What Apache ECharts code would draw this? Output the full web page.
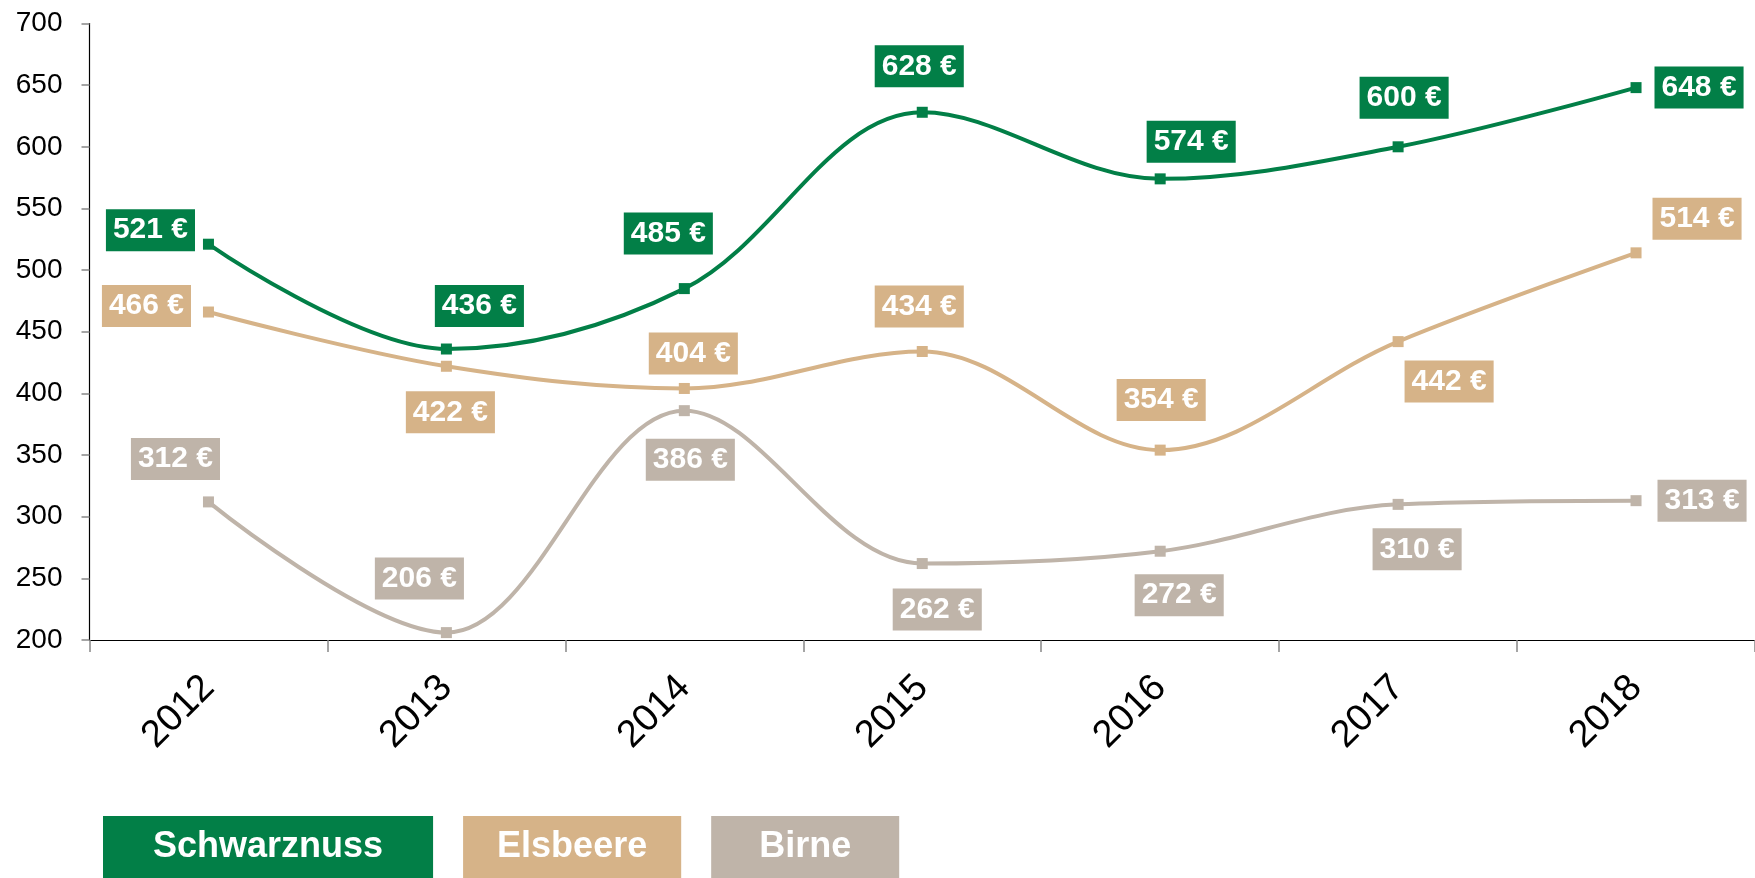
<!DOCTYPE html>
<html><head><meta charset="utf-8">
<script src="https://cdn.jsdelivr.net/npm/echarts@6/dist/echarts.min.js"></script>
<style>html,body{margin:0;padding:0;background:#fff}#c{width:1755px;height:878px}</style>
</head><body><div id="c"></div>
<script>
// ---- data ----
const years = ['2012', '2013', '2014', '2015', '2016', '2017', '2018'];
const schwarznuss = [521, 436, 485, 628, 574, 600, 648];
const elsbeere = [466, 422, 404, 434, 354, 442, 514];
const birne = [312, 206, 386, 262, 272, 310, 313];
const seriesNames = ['Schwarznuss', 'Elsbeere', 'Birne'];
const yMin = 200, yMax = 700, yStep = 50;

// ---- styles ----
const colors = ['#027F47', '#D6B388', '#BFB4A9'];
const labelOffsets = [
  [[-58, -14], [33, -43], [-16, -55], [-3, -46], [31, -37], [6, -49], [63, 0]],
  [[-62, -6], [4, 46], [9, -35], [-3, -45], [1, -50], [51, 40], [61, -34]],
  [[-33, -43], [-27, -54], [6, 49], [15, 46], [19, 44], [19, 45], [66, 0]]
];
const legendPad = [50, 34, 48];
const FONT = '"Liberation Sans", Arial, sans-serif';

const seriesData = [schwarznuss, elsbeere, birne];

const chart = echarts.init(document.getElementById('c'), null, {renderer: 'canvas'});

const series = seriesData.map((vals, si) => ({
  name: seriesNames[si],
  type: 'line',
  smooth: 0.35,
  symbol: 'rect',
  symbolSize: 11,
  lineStyle: {width: 4, color: colors[si]},
  itemStyle: {color: colors[si]},
  z: 3 - si,
  data: vals.map((v, i) => ({
    value: v,
    label: {offset: labelOffsets[si][i]}
  })),
  label: {
    show: true,
    position: 'inside',
    formatter: '{c} €',
    color: '#fff',
    fontFamily: FONT,
    fontWeight: 'bold',
    fontSize: 30,
    lineHeight: 30,
    backgroundColor: colors[si],
    padding: [6, 7, 6, 7]
  },
  emphasis: {disabled: true}
}));

chart.setOption({
  animation: false,
  backgroundColor: '#fff',
  grid: {left: 89.5, right: 0, top: 23.5, bottom: 238, containLabel: false},
  legend: {
    left: 98,
    top: 816,
    padding: 0,
    icon: 'none',
    itemWidth: 0,
    itemHeight: 62,
    itemGap: 25,
    selectedMode: false,
    data: seriesNames.map((n, i) => ({
      name: n,
      textStyle: {
        color: '#fff',
        fontFamily: FONT,
        fontWeight: 'bold',
        fontSize: 36,
        lineHeight: 42,
        backgroundColor: colors[i],
        padding: [10, legendPad[i], 10, legendPad[i]]
      }
    }))
  },
  xAxis: {
    type: 'category',
    data: years,
    boundaryGap: true,
    axisLine: {lineStyle: {color: '#000', width: 1.2}},
    axisTick: {show: true, length: 12, lineStyle: {color: '#888', width: 1.5}},
    axisLabel: {
      rotate: 45,
      margin: 42,
      color: '#000',
      fontFamily: FONT,
      fontSize: 38
    }
  },
  yAxis: {
    type: 'value',
    min: yMin,
    max: yMax,
    interval: yStep,
    axisLine: {show: true, lineStyle: {color: '#000', width: 1.2}},
    axisTick: {show: true, length: 8, lineStyle: {color: '#888', width: 1.5}},
    splitLine: {show: false},
    axisLabel: {
      margin: 27,
      color: '#000',
      fontFamily: FONT,
      fontSize: 28
    }
  },
  series: series
});
</script>
</body></html>
